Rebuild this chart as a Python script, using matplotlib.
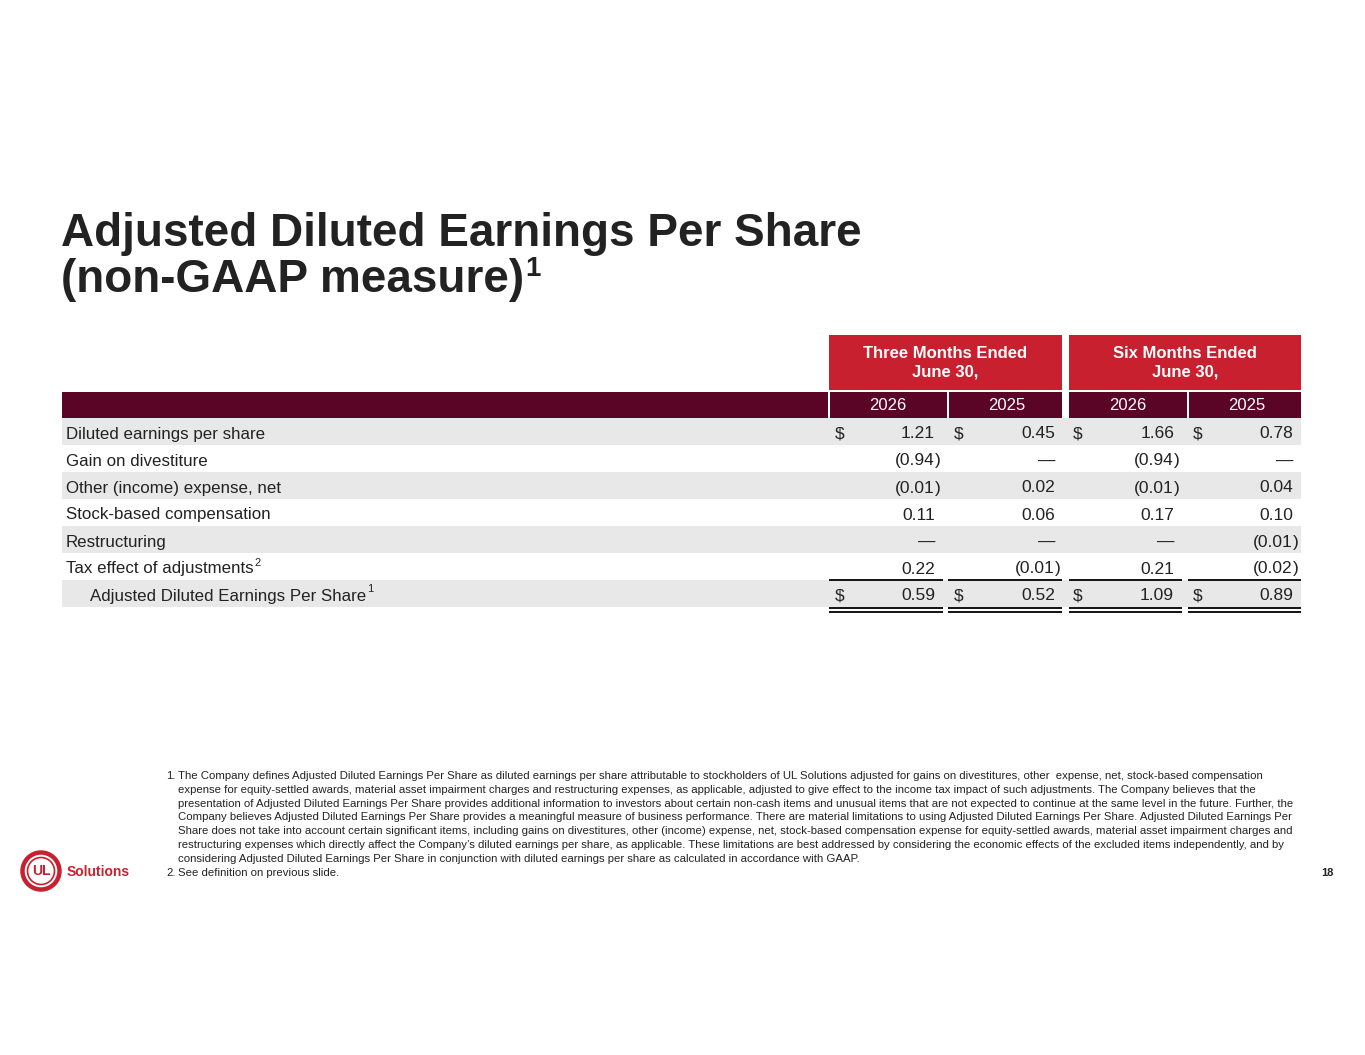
import matplotlib
matplotlib.use('Agg')
import matplotlib.pyplot as plt
from matplotlib.patches import Rectangle, Circle

plt.rcParams['font.family'] = ['Liberation Sans', 'DejaVu Sans']

# --- data ---
row_labels = ['Diluted earnings per share', 'Gain on divestiture', 'Other (income) expense, net',
              'Stock-based compensation', 'Restructuring', 'Tax effect of adjustments',
              'Adjusted Diluted Earnings Per Share']
row_sup = ['', '', '', '', '', '2', '1']
group_labels = ['Three Months Ended\nJune 30,', 'Six Months Ended\nJune 30,']
year_labels = ['2026', '2025', '2026', '2025']
three_2026 = [1.21, -0.94, -0.01, 0.11, 0.0, 0.22, 0.59]
three_2025 = [0.45, 0.0, 0.02, 0.06, 0.0, -0.01, 0.52]
six_2026 = [1.66, -0.94, -0.01, 0.17, 0.0, 0.21, 1.09]
six_2025 = [0.78, 0.0, 0.04, 0.10, -0.01, -0.02, 0.89]
dollar_rows = [0, 6]

footnote_lines = [
    "The Company defines Adjusted Diluted Earnings Per Share as diluted earnings per share attributable to stockholders of UL Solutions adjusted for gains on divestitures, other  expense, net, stock-based compensation",
    "expense for equity-settled awards, material asset impairment charges and restructuring expenses, as applicable, adjusted to give effect to the income tax impact of such adjustments. The Company believes that the",
    "presentation of Adjusted Diluted Earnings Per Share provides additional information to investors about certain non-cash items and unusual items that are not expected to continue at the same level in the future. Further, the",
    "Company believes Adjusted Diluted Earnings Per Share provides a meaningful measure of business performance. There are material limitations to using Adjusted Diluted Earnings Per Share. Adjusted Diluted Earnings Per",
    "Share does not take into account certain significant items, including gains on divestitures, other (income) expense, net, stock-based compensation expense for equity-settled awards, material asset impairment charges and",
    "restructuring expenses which directly affect the Company\u2019s diluted earnings per share, as applicable. These limitations are best addressed by considering the economic effects of the excluded items independently, and by",
    "considering Adjusted Diluted Earnings Per Share in conjunction with diluted earnings per share as calculated in accordance with GAAP.",
]
footnote2 = "See definition on previous slide."

RED = '#c8202e'
DARK = '#5b0526'
GRAY = '#e8e8e8'
TXT = '#222222'

fig = plt.figure(figsize=(13.65, 10.55), dpi=100)
ax = fig.add_axes([0, 0, 1, 1])
ax.set_xlim(0, 1365)
ax.set_ylim(1055, 0)
ax.axis('off')

# title
ax.text(61, 246, 'Adjusted Diluted Earnings Per Share', fontsize=33, fontweight='bold',
        color=TXT, va='baseline')
t2 = ax.text(61, 292, '(non-GAAP measure)', fontsize=33, fontweight='bold', color=TXT,
             va='baseline')
fig.canvas.draw()
bb = t2.get_window_extent()
ax.text(bb.x1 + 1, 276, '1', fontsize=20, fontweight='bold', color=TXT, va='baseline')

# column geometry
seg = [(829, 943), (948, 1062), (1069, 1182), (1188, 1301)]
num_right = [935, 1055, 1174, 1293]
dollar_x = [835, 954, 1073, 1193]
left, right = 62, 1301
row_top = 418
row_h = 27

# group header boxes
for (x0, x1), lab in zip([(829, 1062), (1069, 1301)], group_labels):
    ax.add_patch(Rectangle((x0, 335), x1 - x0, 55, color=RED, lw=0))
    ax.text((x0 + x1) / 2, 363, lab, color='white', fontsize=12, fontweight='bold',
            ha='center', va='center', linespacing=1.3)

# dark year bar
for x0, x1 in [(62, 828), (830, 947), (949, 1062), (1069, 1187), (1189, 1301)]:
    ax.add_patch(Rectangle((x0, 392), x1 - x0, 26, color=DARK, lw=0))
for (x0, x1), yl in zip(seg, year_labels):
    ax.text((x0 + x1) / 2 + 2, 405, yl, color='white', fontsize=12, ha='center', va='center')

# rows
cols = [three_2026, three_2025, six_2026, six_2025]
for i, lab in enumerate(row_labels):
    y0 = row_top + i * row_h
    yc = y0 + row_h / 2 + 1
    if i % 2 == 0:
        ax.add_patch(Rectangle((left, y0), right - left, row_h, color=GRAY, lw=0))
    lx = 90 if i == 6 else 66
    t = ax.text(lx, yc, lab, fontsize=12.2, color=TXT, va='center_baseline')
    if row_sup[i]:
        fig.canvas.draw()
        b = t.get_window_extent()
        ax.text(b.x1 + 1, yc - 6, row_sup[i], fontsize=8, color=TXT, va='center_baseline')
    for j, vals in enumerate(cols):
        v = vals[i]
        if i in dollar_rows:
            ax.text(dollar_x[j], yc, '$', fontsize=12.5, color=TXT, va='center_baseline')
        if v == 0:
            ax.text(num_right[j], yc, '\u2014', fontsize=12.5, color=TXT, ha='right', va='center_baseline')
        elif v < 0:
            ax.text(num_right[j], yc, '(%.2f' % abs(v), fontsize=12.5, color=TXT, ha='right',
                    va='center_baseline')
            ax.text(num_right[j], yc, ')', fontsize=12.5, color=TXT, ha='left', va='center_baseline')
        else:
            ax.text(num_right[j], yc, '%.2f' % v, fontsize=12.5, color=TXT, ha='right',
                    va='center_baseline')

# total lines
for x0, x1 in seg:
    ax.plot([x0, x1], [580, 580], color='black', lw=1.3, solid_capstyle='butt')
    ax.plot([x0, x1], [608, 608], color='black', lw=1.3, solid_capstyle='butt')
    ax.plot([x0, x1], [611.5, 611.5], color='black', lw=1.3, solid_capstyle='butt')

# footnotes
fy = 776
fs = 8.2
for k, line in enumerate(footnote_lines):
    if k == 0:
        ax.text(166, fy, '1.', fontsize=fs, color=TXT, va='center')
    ax.text(178, fy + k * 13.8, line, fontsize=fs, color=TXT, va='center')
ax.text(166, fy + 7 * 13.8, '2.', fontsize=fs, color=TXT, va='center')
ax.text(178, fy + 7 * 13.8, footnote2, fontsize=fs, color=TXT, va='center')

# page number
ax.text(1334, 873, '18', fontsize=8, fontweight='bold', color=TXT, ha='right', va='center')

# logo
ax.add_patch(Circle((41, 871), 18.5, fill=False, ec=RED, lw=3.2))
ax.add_patch(Circle((41, 871), 13.5, fill=False, ec=RED, lw=1.2))
ax.text(41, 871, 'UL', fontsize=10, fontweight='bold', color=RED, ha='center', va='center')
ax.text(67, 872, 'Solutions', fontsize=10, fontweight='bold', color=RED, ha='left', va='center')

fig.savefig('out.png', dpi=100, facecolor='white')
